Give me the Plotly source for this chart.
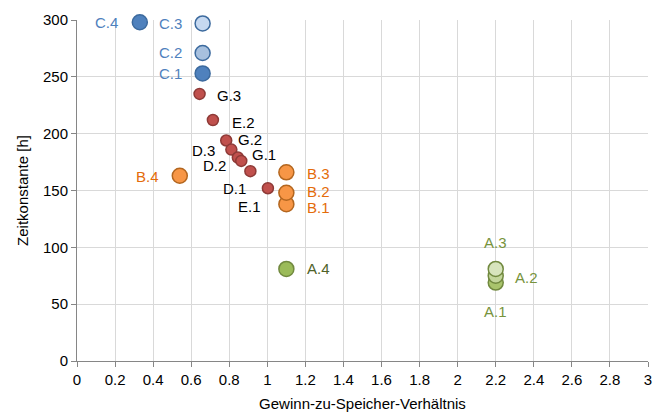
import plotly.graph_objects as go

# ---- data ----
labels = ["C.4", "C.3", "C.2", "C.1",
          "G.3", "E.2", "G.2", "D.3", "G.1", "D.2", "D.1", "E.1",
          "B.4", "B.1", "B.2", "B.3",
          "A.4", "A.1", "A.2", "A.3"]
ratio = [0.33, 0.66, 0.66, 0.66,
         0.644, 0.714, 0.784, 0.811, 0.845, 0.863, 0.911, 1.003,
         0.54, 1.10, 1.10, 1.10,
         1.10, 2.20, 2.20, 2.20]
tau = [298, 297, 271, 253,
       235, 212, 194, 186, 179, 176, 167, 152,
       163, 138, 148, 166,
       81, 69, 75, 81]
x_ticks = [0, 0.2, 0.4, 0.6, 0.8, 1, 1.2, 1.4, 1.6, 1.8, 2, 2.2, 2.4, 2.6, 2.8, 3]
y_ticks = [0, 50, 100, 150, 200, 250, 300]

# ---- styles (per point) ----
fill = {"C.4": "#4f81bd", "C.3": "#c6d9f1", "C.2": "#a7c0de", "C.1": "#4f81bd",
        "B": "#f79646", "R": "#c0504d",
        "A.4": "#9bbb59", "A.1": "#a9c46c", "A.2": "#c3d69b", "A.3": "#d7e4bd"}
edge = {"C": "#3c6a9e", "B": "#b3661f", "R": "#8e3a37", "A": "#71893f"}
label_color = {"C": "#4f81bd", "B": "#e46c0a", "R": "#000000", "A": "#77933c"}
offsets = {  # pixel offsets of labels from their points (dx, dy up)
    "C.4": (-33, 0), "C.3": (-32, 0), "C.2": (-32, 0), "C.1": (-32, 0),
    "G.3": (29, -2), "E.2": (31, -2), "G.2": (24, 1), "D.3": (-28, -1),
    "G.1": (26, 3), "D.2": (-27, -5), "D.1": (-16, -17), "E.1": (-18, -18),
    "B.4": (-32, -1), "B.1": (32, -3), "B.2": (32, 1), "B.3": (32, -1),
    "A.4": (32, 0), "A.1": (0, -29), "A.2": (31, -2), "A.3": (0, 26),
}

def group(lbl):
    g = lbl[0]
    return "R" if g in "DEG" else g

fills, lines, sizes = [], [], []
for l in labels:
    g = group(l)
    fills.append(fill.get(l, fill.get(g)))
    lines.append(edge[g])
    sizes.append(11 if g == "R" else 15)

fig = go.Figure()
fig.add_trace(go.Scatter(
    x=ratio, y=tau, mode="markers",
    marker=dict(color=fills, size=sizes, opacity=1,
                line=dict(color=lines, width=1.5)),
    hovertext=labels, showlegend=False, cliponaxis=False))

for l, xv, yv in zip(labels, ratio, tau):
    g = group(l)
    dx, dy = offsets[l]
    col = label_color[g]
    if l == "A.4":
        col = "#4f6228"
    fig.add_annotation(x=xv, y=yv, text=l, showarrow=False,
                       xshift=dx, yshift=dy,
                       font=dict(size=15, color=col,
                                 family="Liberation Sans, Arial, sans-serif"))

axis_common = dict(
    showgrid=True, gridcolor="#d9d9d9", gridwidth=1,
    showline=True, linecolor="#868686", linewidth=1,
    ticks="outside", ticklen=5, tickcolor="#868686",
    zeroline=False, automargin=False,
    tickfont=dict(size=15, color="#000000"),
)

fig.update_xaxes(range=[0, 3], tickvals=x_ticks,
                 ticktext=[f"{v:g}" for v in x_ticks],
                 title=dict(text="Gewinn-zu-Speicher-Verhältnis",
                            font=dict(size=15, color="#000000"), standoff=11),
                 **axis_common)
fig.update_yaxes(range=[0, 300], tickvals=y_ticks,
                 title=dict(text="Zeitkonstante [h]",
                            font=dict(size=15, color="#000000"), standoff=10),
                 **axis_common)

# page body has an 8px margin, so the figure is 8px smaller and margins shifted
fig.update_layout(
    width=654, height=407,
    margin=dict(l=69, r=14, t=12, b=54),
    paper_bgcolor="white", plot_bgcolor="white",
    font=dict(family="Liberation Sans, Arial, sans-serif", size=15, color="#000000"),
)

fig.write_html("out.html")
